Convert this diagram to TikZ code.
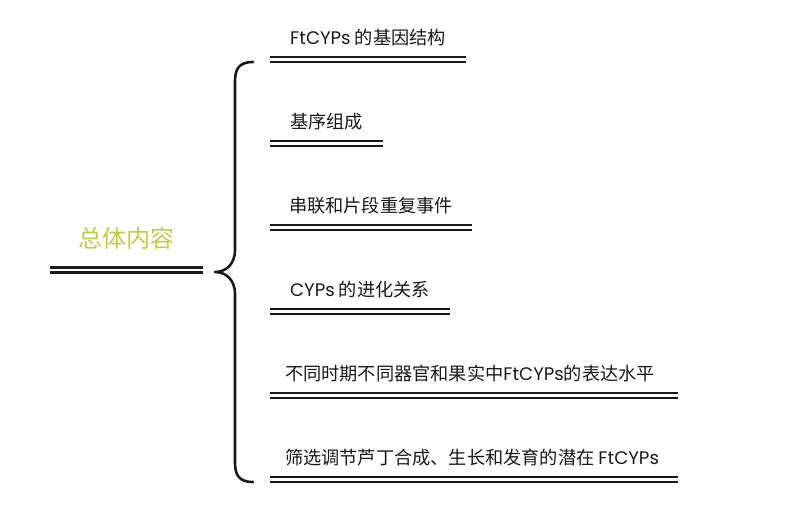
\documentclass[tikz,border=0pt]{standalone}
\usepackage{fontspec}
\setmainfont{Noto Sans CJK SC}
\newfontfamily\lat{Poppins}
\definecolor{rootc}{RGB}{192,202,70}
\definecolor{linec}{RGB}{25,25,25}
\begin{document}
\begin{tikzpicture}[x=1pt,y=-1pt,
  itemtxt/.style={inner sep=0pt, font=\fontsize{18.2}{20}\selectfont, text=black!90},
  roottxt/.style={inner sep=0pt, font=\fontsize{24}{26}\selectfont, text=rootc},
  dline/.style={draw=linec, line width=2.2pt},
  rline/.style={draw=linec, line width=2.8pt},
  bracestyle/.style={draw=linec, line width=2.6pt, line cap=round, line join=round}]
\useasboundingbox (0,0) rectangle (791,527);
% root
\node[roottxt] (root) at (126,238) {总体内容};
\coordinate (rA) at (50,267.5); \coordinate (rB) at (203,267.5);
\coordinate (rC) at (50,272.5); \coordinate (rD) at (203,272.5);
\draw[rline] (rA) -- (rB);
\draw[rline] (rC) -- (rD);
% brace
\coordinate (btop) at (253,62);
\coordinate (btip) at (215,272);
\coordinate (bbot) at (253,482);
\draw[bracestyle] (btop) .. controls (238,62) and (235,70) .. (235,82)
  -- (235,250) .. controls (235,265) and (225,272) .. (btip)
  .. controls (225,272) and (235,279) .. (235,294)
  -- (235,462) .. controls (235,474) and (238,482) .. (bbot);
% items
\foreach \i/\len/\dx/\txt in {
  0/466/0/{{\lat FtCYPs} 的基因结构},
  1/383/0/{基序组成},
  2/472/0/{串联和片段重复事件},
  3/450/0/{{\lat CYPs} 的进化关系},
  4/678/-4/{不同时期不同器官和果实中{\lat FtCYPs}的表达水平},
  5/678/-2/{筛选调节芦丁合成、生长和发育的潜在 {\lat FtCYPs}}}{
  \pgfmathsetmacro{\ty}{38+84*\i}
  \pgfmathsetmacro{\la}{57+84*\i}
  \pgfmathsetmacro{\lb}{62+84*\i}
  \pgfmathsetmacro{\cx}{(270+\len)/2+\dx}
  \node[itemtxt] (item\i) at (\cx,\ty) {\txt};
  \coordinate (a\i) at (270,\la); \coordinate (b\i) at (\len,\la);
  \coordinate (c\i) at (270,\lb); \coordinate (d\i) at (\len,\lb);
  \draw[dline] (a\i) -- (b\i);
  \draw[dline] (c\i) -- (d\i);
}
\end{tikzpicture}
\end{document}
